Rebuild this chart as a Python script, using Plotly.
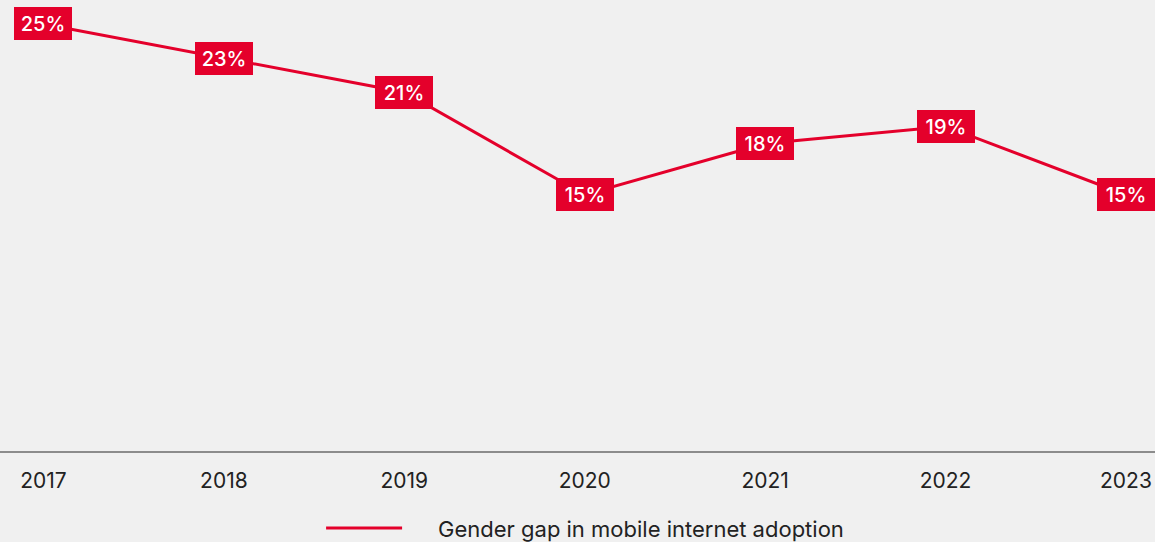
import plotly.graph_objects as go

# Gender gap in mobile internet adoption, by year (%)
years = [2017, 2018, 2019, 2020, 2021, 2022, 2023]
gap_pct = [25, 23, 21, 15, 18, 19, 15]
series_name = "Gender gap in mobile internet adoption"

RED = "#e4002b"
BG = "#f0f0f0"
FONT = "Inter, 'Noto Sans', sans-serif"

fig = go.Figure()
fig.add_trace(go.Scatter(
    x=years, y=gap_pct, mode="lines",
    name="\u00a0\u00a0\u00a0\u00a0\u00a0" + series_name,
    line=dict(color=RED, width=3),
    hoverinfo="skip",
))

# value labels in solid red boxes centred on each point
for yr, v in zip(years, gap_pct):
    fig.add_annotation(
        x=yr, y=v, xref="x", yref="y", text=f"{v}%", showarrow=False,
        font=dict(family=FONT, size=20, color="white", weight=500),
        bgcolor=RED, borderpad=4, borderwidth=0,
        width=50, height=25, align="center", valign="middle",
        xanchor="center", yanchor="middle",
    )

fig.update_layout(
    width=1155, height=542,
    margin=dict(l=0, r=0, t=0, b=91, autoexpand=False),
    paper_bgcolor=BG, plot_bgcolor=BG,
    font=dict(family=FONT, color="#222222"),
    showlegend=True,
    legend=dict(
        orientation="h", x=0.278, xanchor="left", y=-0.171, yanchor="middle",
        font=dict(family=FONT, size=22, color="#222222"),
        itemwidth=76, bgcolor="rgba(0,0,0,0)",
    ),
    xaxis=dict(
        range=[2016.759, 2023.161], tickmode="array", tickvals=years,
        ticktext=[str(y) for y in years],
        showgrid=False, zeroline=False,
        showline=True, linecolor="#8c8c8c", linewidth=1.5,
        ticks="outside", ticklen=10, tickcolor=BG,
        tickfont=dict(family=FONT, size=21, color="#222222"),
        fixedrange=True,
    ),
    yaxis=dict(
        range=[0, 26.4], visible=False, showgrid=False, zeroline=False,
        fixedrange=True,
    ),
)

fig.write_html("out.html")
